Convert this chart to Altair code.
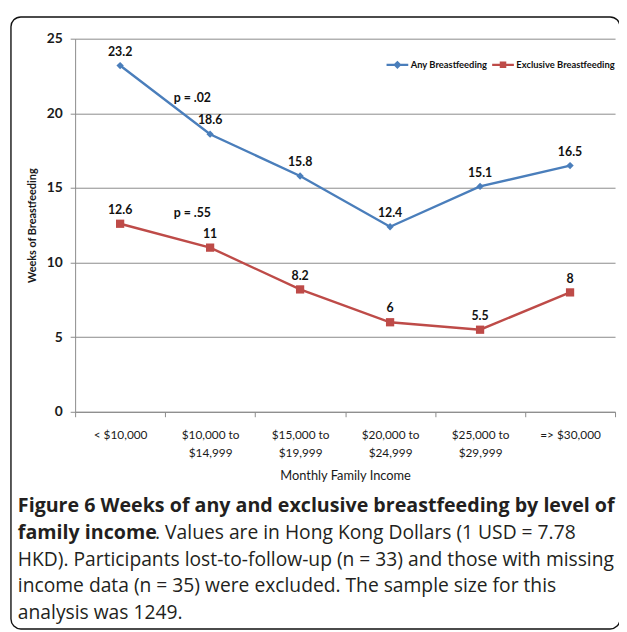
import altair as alt
import pandas as pd

categories = ["< $10,000", "$10,000 to\n$14,999", "$15,000 to\n$19,999",
              "$20,000 to\n$24,999", "$25,000 to\n$29,999", "=> $30,000"]
series_names = ["Any Breastfeeding", "Exclusive Breastfeeding"]
series_colors = ["#4A7EBB", "#BE4B48"]
any_bf = [23.2, 18.6, 15.8, 12.4, 15.1, 16.5]
excl_bf = [12.6, 11, 8.2, 6, 5.5, 8]
any_labels = ["23.2", "18.6", "15.8", "12.4", "15.1", "16.5"]
excl_labels = ["12.6", "11", "8.2", "6", "5.5", "8"]
y_ticks = [0, 5, 10, 15, 20, 25]
p_texts = ["p = .02", "p = .55"]
p_values_y = [21.0, 13.3]
p_category = categories[1]

caption_bold_1 = "Figure 6 Weeks of any and exclusive breastfeeding by level of"
caption_bold_2 = "family income"
caption_rest_2 = ". Values are in Hong Kong Dollars (1 USD = 7.78"
caption_lines = [
    "HKD). Participants lost-to-follow-up (n = 33) and those with missing",
    "income data (n = 35) were excluded. The sample size for this",
    "analysis was 1249.",
]

rows = []
for s, vals, labs in [(series_names[0], any_bf, any_labels), (series_names[1], excl_bf, excl_labels)]:
    for c, v, l in zip(categories, vals, labs):
        rows.append({"income": c, "value": v, "series": s, "label": l})
df = pd.DataFrame(rows)
pdf = pd.DataFrame({"income": [p_category] * 2, "value": p_values_y, "text": p_texts})

GRID = "#8a8a8a"
FONT = "Lato"
CAP_FONT = "Open Sans"

x_enc = alt.X(
    "income:N", sort=categories, bandPosition=0.5,
    scale=alt.Scale(type="band", paddingInner=0, paddingOuter=0),
    axis=alt.Axis(
        title="Monthly Family Income", labelExpr="split(datum.label, '\\n')",
        labelAngle=0, tickBand="extent", tickSize=5, tickColor=GRID,
        domainColor=GRID, labelFont=FONT, labelFontSize=12, labelColor="#1a1a1a",
        labelLineHeight=18, labelBaseline="top", labelPadding=13,
        titleFont=FONT, titleFontSize=13, titleFontWeight="normal",
        titleColor="#1a1a1a", titleY=65, titleBaseline="middle",
    ),
)
y_enc = alt.Y(
    "value:Q", scale=alt.Scale(domain=[0, 25]),
    axis=alt.Axis(
        values=y_ticks, title="Weeks of Breastfeeding", grid=True, gridColor=GRID,
        domainColor=GRID, tickColor=GRID, tickSize=5, labelPadding=8,
        labelFont=FONT, labelFontSize=14, labelFontWeight="bold", labelColor="#1a1a1a",
        titleFont=FONT, titleFontSize=11, titleFontWeight="bold", titleColor="#1a1a1a",
        titleX=-43, titleY=189, titleAngle=-90, titleBaseline="middle", titleAlign="center",
    ),
)
color_enc = alt.Color("series:N", scale=alt.Scale(domain=series_names, range=series_colors), legend=None)

base = alt.Chart(df).encode(x=x_enc, y=y_enc)
lines = base.mark_line(strokeWidth=2.4).encode(color=color_enc)
points = base.mark_point(filled=True, opacity=1).encode(
    color=color_enc,
    shape=alt.Shape("series:N", scale=alt.Scale(domain=series_names, range=["diamond", "square"]), legend=None),
    size=alt.Size("series:N", scale=alt.Scale(domain=series_names, range=[55, 70]), legend=None),
)
labels = base.mark_text(dy=-14, font=FONT, fontSize=12.5, fontWeight="bold", color="#111").encode(text="label:N")
ptext = alt.Chart(pdf).mark_text(dx=-18, font=FONT, fontSize=12.5, fontWeight="bold", color="#111").encode(
    x=x_enc, y=y_enc, text="text:N")

legend_paths = [
    "M-1,0L1,0M0,-0.24L0.24,0L0,0.24L-0.24,0ZM0,-0.1L0.1,0L0,0.1L-0.1,0Z",
    "M-1,0L1,0M-0.2,-0.2L0.2,-0.2L0.2,0.2L-0.2,0.2ZM-0.08,-0.08L0.08,-0.08L0.08,0.08L-0.08,0.08Z",
]
legend_x = [314, 421]
legend_layers = []
for name, col, path, lx in zip(series_names, series_colors, legend_paths, legend_x):
    leg = alt.Legend(
        title=None, orient="none", legendX=lx, legendY=14, direction="horizontal",
        symbolSize=484, symbolStrokeWidth=2.2, symbolOpacity=1,
        symbolFillColor=col, symbolStrokeColor=col,
        labelFont=FONT, labelFontSize=9.5, labelFontWeight="bold", labelColor="#111",
        labelOffset=1, padding=0,
    )
    legend_layers.append(
        alt.Chart(df[df["series"] == name]).mark_point(opacity=0, filled=False, color=col).encode(
            x=x_enc, y=y_enc,
            shape=alt.Shape("series:N", scale=alt.Scale(domain=[name], range=[path]), legend=leg),
        )
    )

one = pd.DataFrame({"k": [0]})
frame = alt.Chart(one).mark_rect(fillOpacity=0, stroke="#111", strokeWidth=1.4, cornerRadius=10).encode(
    x=alt.value(-65), x2=alt.value(552), y=alt.value(-22), y2=alt.value(598))

CAP_X = -58
cap_style = dict(font=CAP_FONT, align="left", baseline="middle", color="#231f20")
caps = [
    alt.Chart(one).mark_text(fontWeight="bold", fontSize=19.9, text=caption_bold_1, **cap_style).encode(
        x=alt.value(CAP_X), y=alt.value(474)),
    alt.Chart(one).mark_text(fontWeight="bold", fontSize=19.9, text=caption_bold_2, **cap_style).encode(
        x=alt.value(CAP_X), y=alt.value(501)),
    alt.Chart(one).mark_text(fontSize=19.5, text=caption_rest_2, **cap_style).encode(
        x=alt.value(81), y=alt.value(501)),
]
for i, t in enumerate(caption_lines):
    caps.append(alt.Chart(one).mark_text(fontSize=19.5, text=t, **cap_style).encode(
        x=alt.value(CAP_X), y=alt.value(528 + 27 * i)))

chart = alt.layer(lines, points, labels, ptext, *legend_layers, frame, *caps).resolve_scale(
    shape="independent"
).properties(
    width=547, height=378,
    autosize=alt.AutoSizeParams(type="none"),
    padding={"left": 68, "top": 27, "right": 4, "bottom": 219},
    background="white",
).configure_view(stroke=None)

chart.save("out.html", embed_options={"renderer": "svg", "actions": False})
